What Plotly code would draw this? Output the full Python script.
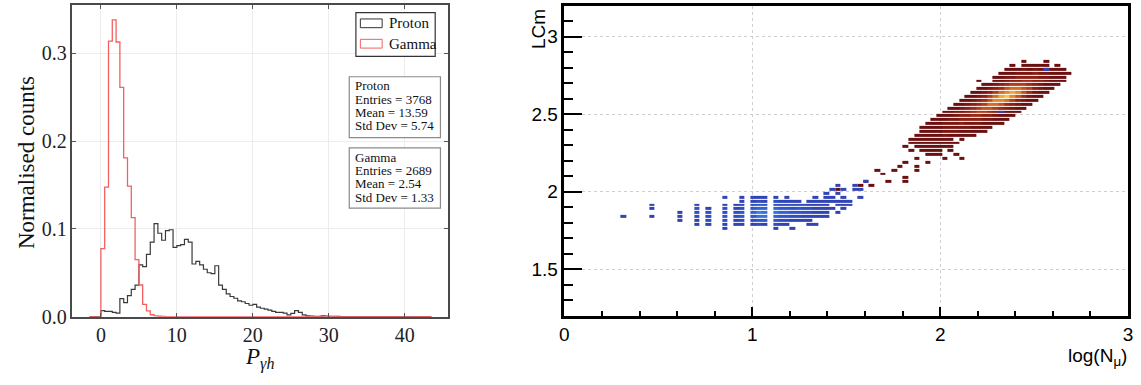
import plotly.graph_objects as go

W, H = 1141, 385

# ---------------- Left panel data: normalised histograms (bin width 0.5, first bin at 0) ----------------
hist_start = 0.0
hist_bin = 0.5
hist_lo, hist_hi = -1.5, 43.5

proton_norm = [0.007, 0.006, 0.006, 0.005, 0.004, 0.0205, 0.016, 0.024, 0.031, 0.036,
               0.059, 0.057, 0.071, 0.085, 0.106, 0.095, 0.087, 0.098, 0.099, 0.079,
               0.081, 0.082, 0.088, 0.085, 0.060, 0.063, 0.059, 0.054, 0.050, 0.049,
               0.058, 0.036, 0.031, 0.026, 0.023, 0.021, 0.018, 0.017, 0.015, 0.013,
               0.014, 0.011, 0.0096, 0.0085, 0.0074, 0.006, 0.005, 0.005, 0.004, 0.002,
               0.0037, 0.0068, 0.0048, 0.002, 0.001, 0.0008, 0.0005, 0.0005, 0.001, 0.0008,
               0.0005, 0.0005, 0.0003]
gamma_norm = [0.0774, 0.1475, 0.3138, 0.3378, 0.3127, 0.2610, 0.1807, 0.1486, 0.1128, 0.0649,
              0.0361, 0.0140, 0.0066, 0.0022, 0.0010, 0.0005, 0.0003]

legend_names = ["Proton", "Gamma"]
stats_proton = ["Proton", "Entries = 3768", "Mean = 13.59", "Std Dev = 5.74"]
stats_gamma = ["Gamma", "Entries = 2689", "Mean = 2.54", "Std Dev = 1.33"]

# ---------------- Right panel data: 2D histogram LCm vs log(N_mu) ----------------
hx0, hdx, hnx = 0.0, 0.03, 100     # log(N_mu) bins
hy0, hdy, hny = 1.2, 0.025, 80     # LCm bins

# proton: rows (LCm, first log(N_mu) bin centre, counts in consecutive bins)
proton_row_lcm = [2.8375, 2.8125, 2.7875, 2.7625, 2.7375, 2.7125, 2.6875, 2.6625, 2.6375, 2.6125,
                  2.5875, 2.5625, 2.5375, 2.5125, 2.4875, 2.4625, 2.4375, 2.4125, 2.3875, 2.3625,
                  2.3375, 2.3125, 2.2875, 2.2625, 2.2375, 2.2125]
proton_row_x0 = [2.445, 2.385, 2.355, 2.325, 2.295, 2.205, 2.235, 2.205, 2.175, 2.145,
                 2.115, 2.085, 2.055, 2.025, 1.995, 1.965, 1.935, 1.905, 1.905, 1.875,
                 1.845, 1.845, 1.815, 1.845, 1.935, 2.025]
proton_row_counts = [
    [1, 0, 0, 0, 1],
    [1, 0, 1, 1, 1, 1, 1, 0, 1],
    [1, 1, 1, 2, 1, 2, 1, 2, 1, 1, 1],
    [1, 1, 1, 2, 2, 2, 3, 2, 2, 1, 1, 1, 1],
    [1, 1, 2, 2, 3, 3, 3, 3, 2, 2, 1, 1, 1],
    [1, 0, 0, 1, 1, 2, 3, 3, 4, 4, 3, 3, 2, 1, 1, 1],
    [1, 1, 2, 3, 4, 5, 5, 5, 4, 3, 2, 1, 1, 1],
    [1, 1, 2, 3, 4, 6, 7, 7, 6, 5, 3, 2, 1, 1],
    [1, 1, 2, 3, 5, 7, 8, 9, 8, 6, 4, 2, 1, 1],
    [1, 1, 2, 3, 5, 7, 9, 10, 8, 6, 4, 2, 1, 1],
    [1, 1, 2, 3, 4, 6, 8, 8, 7, 5, 3, 2, 1, 1],
    [1, 1, 2, 3, 4, 5, 7, 7, 6, 4, 3, 2, 1, 1],
    [1, 1, 2, 3, 4, 5, 6, 6, 5, 4, 3, 2, 1, 1],
    [1, 1, 2, 2, 3, 4, 5, 5, 4, 3, 2, 1, 1, 1],
    [1, 1, 1, 2, 3, 3, 4, 4, 3, 3, 2, 1, 1, 1],
    [1, 1, 1, 2, 2, 3, 3, 3, 3, 2, 2, 1, 1, 1],
    [1, 1, 1, 2, 2, 2, 3, 2, 2, 2, 1, 1, 1, 1],
    [1, 1, 1, 1, 2, 2, 2, 2, 2, 1, 1, 1, 1],
    [1, 1, 1, 1, 2, 2, 2, 1, 1, 1, 1, 1],
    [1, 1, 1, 1, 1, 2, 1, 1, 1, 1, 1],
    [1, 1, 1, 1, 1, 1, 1, 1, 0, 1],
    [1, 1, 1, 1, 1, 1, 1, 1, 1],
    [1, 0, 1, 1, 1, 1, 1, 1, 1],
    [1, 0, 1, 1, 1, 1, 0, 1],
    [1, 1, 1, 0, 0, 1],
    [1, 0, 0, 1],
]
proton_tail_x = [1.455, 1.575, 1.605, 1.635, 1.665, 1.695, 1.725, 1.755, 1.785, 1.815,
                 1.815, 1.815, 1.875, 1.875, 1.935, 1.875]
proton_tail_y = [2.0125, 2.0375, 2.0625, 2.0375, 2.1375, 2.1125, 2.0625, 2.1375, 2.1625, 2.1875,
                 2.0875, 2.0625, 2.1375, 2.2125, 2.1875, 2.1625]

# gamma: columns (log(N_mu) bin centre, lowest LCm bin centre, counts going upward)
gamma_col_x = [0.315, 0.465, 0.615, 0.705, 0.765, 0.855, 0.915, 0.945, 1.005, 1.035,
               1.065, 1.125, 1.155, 1.185, 1.215, 1.245, 1.275, 1.305, 1.335, 1.365,
               1.395, 1.425, 1.455, 1.485, 1.515, 1.545, 1.575, 1.605, 2.315, 2.555]
gamma_col_y0 = [1.8375, 1.8375, 1.8125, 1.7875, 1.7875, 1.7625, 1.7875, 1.7875, 1.7875, 1.7875,
                1.7875, 1.7625, 1.7875, 1.7875, 1.7625, 1.8125, 1.8125, 1.7875, 1.7875, 1.8375,
                1.8375, 1.8875, 1.8625, 1.8875, 1.9125, 2.0125, 1.9625, 2.0625, 2.5125, 2.7875]
gamma_col_counts = [
    [1], [1, 0, 1, 1], [1, 1, 1], [1, 1, 2, 2, 2, 1], [1, 2, 2, 2, 1],
    [1, 1, 2, 3, 2, 2, 1, 0, 1], [1, 1, 2, 2, 1, 1], [1, 2, 3, 3, 2, 2, 1, 1],
    [1, 2, 3, 4, 3, 2, 1, 1], [2, 3, 5, 6, 4, 3, 2, 1],
    [1, 3, 5, 5, 4, 3, 1, 1], [1, 2, 3, 4, 5, 4, 3, 2, 1], [1, 2, 3, 4, 3, 2, 1],
    [1, 2, 3, 4, 3, 2, 1, 1], [1, 0, 1, 2, 3, 2, 2, 1], [1, 2, 3, 3, 2, 1],
    [1, 1, 2, 2, 2], [1, 1, 1, 2, 2, 1, 1], [1, 0, 1, 1, 1, 1, 1, 1], [1, 1, 1, 1, 1],
    [1, 1, 1, 1, 1, 1, 1], [1, 0, 1, 1, 0, 1], [1, 0, 1, 1, 0, 1, 0, 1], [1, 1, 1, 1, 0, 1],
    [1, 1], [1, 1], [1, 0, 1], [1], [1], [1],
]

# ---------------- helpers ----------------
def fx(p):
    return p / W


def fy(p):
    return 1 - p / H


def step_path(values):
    xs, ys = [hist_lo, hist_start], [0, 0]
    for i, v in enumerate(values):
        xs.append(hist_start + i * hist_bin)
        ys.append(v)
    end = hist_start + len(values) * hist_bin
    xs += [end, end, hist_hi]
    ys += [values[-1], 0, 0]
    return xs, ys


xc = [hx0 + (i + 0.5) * hdx for i in range(hnx)]
yc = [hy0 + (j + 0.5) * hdy for j in range(hny)]


def empty_grid():
    return [[None] * hnx for _ in range(hny)]


def put(Z, x, y, c):
    if c <= 0:
        return
    i = int(round((x - hx0) / hdx - 0.5))
    j = int(round((y - hy0) / hdy - 0.5))
    if 0 <= i < hnx and 0 <= j < hny:
        Z[j][i] = (Z[j][i] or 0) + c


Zp = empty_grid()
for y, x0, cs in zip(proton_row_lcm, proton_row_x0, proton_row_counts):
    for k, c in enumerate(cs):
        put(Zp, x0 + k * hdx, y, c)
for x, y in zip(proton_tail_x, proton_tail_y):
    put(Zp, x, y, 1)

Zg = empty_grid()
for x, y0, cs in zip(gamma_col_x, gamma_col_y0, gamma_col_counts):
    for k, c in enumerate(cs):
        put(Zg, x, y0 + k * hdy, c)

fig = go.Figure()

# left histograms
px_, py_ = step_path(proton_norm)
fig.add_trace(go.Scatter(x=px_, y=py_, mode="lines", line=dict(color="#3a3a3a", width=1.2, shape="hv"),
                         xaxis="x", yaxis="y", hoverinfo="skip", showlegend=False))
gx_, gy_ = step_path(gamma_norm)
fig.add_trace(go.Scatter(x=gx_, y=gy_, mode="lines", line=dict(color="#f26060", width=1.3, shape="hv"),
                         xaxis="x", yaxis="y", hoverinfo="skip", showlegend=False))

# right heatmaps
fig.add_trace(go.Heatmap(x=xc, y=yc, z=Zp, xaxis="x2", yaxis="y2", zmin=1, zmax=10,
                         colorscale=[[0, "#6a1010"], [0.15, "#7e1812"], [0.35, "#a02c16"],
                                     [0.55, "#c4501c"], [0.78, "#e08a2c"], [1, "#f4cc4a"]],
                         showscale=False, ygap=1, hoverinfo="skip"))
fig.add_trace(go.Heatmap(x=xc, y=yc, z=Zg, xaxis="x2", yaxis="y2", zmin=1, zmax=6,
                         colorscale=[[0, "#3044b4"], [0.5, "#2f5cd0"], [1, "#3a80ea"]],
                         showscale=False, ygap=1, hoverinfo="skip"))

serif = "Liberation Serif, Times New Roman, serif"
sans = "Liberation Sans, Arial, sans-serif"

left_axis_common = dict(showline=True, linecolor="#4a4a4a", linewidth=1.5, mirror="ticks",
                        ticks="inside", ticklen=4, tickwidth=1, tickcolor="#555",
                        showgrid=True, gridcolor="#ececec", gridwidth=1, zeroline=False,
                        tickfont=dict(family=serif, size=20, color="#222"))

fig.update_layout(
    width=W, height=H, margin=dict(l=0, r=0, t=0, b=0),
    paper_bgcolor="white", plot_bgcolor="white", showlegend=False,
    xaxis=dict(domain=[fx(68), fx(447)], range=[-3.75, 45.7], tickvals=[0, 10, 20, 30, 40],
               anchor="y", **left_axis_common),
    yaxis=dict(domain=[fy(326), fy(5)], range=[0, 0.355], tickvals=[0, 0.1, 0.2, 0.3],
               tickformat=".1f", anchor="x", **left_axis_common),
    xaxis2=dict(domain=[fx(564.3), fx(1133)], range=[0, 3], dtick=1, tick0=0, anchor="y2",
                showline=True, linecolor="black", linewidth=2.5, mirror=True,
                ticks="inside", ticklen=9, tickwidth=2, tickcolor="black",
                minor=dict(ticks="inside", dtick=0.2, tick0=0, ticklen=5, tickwidth=2,
                           tickcolor="black", showgrid=False),
                showgrid=True, gridcolor="#cfcfcf", griddash="dot", gridwidth=1, zeroline=False,
                tickfont=dict(family=sans, size=19, color="black")),
    yaxis2=dict(domain=[fy(325), fy(6)], range=[1.2, 3.2], dtick=0.5, tick0=0, anchor="x2",
                showline=True, linecolor="black", linewidth=2.5, mirror=True,
                ticks="inside", ticklen=18, tickwidth=2, tickcolor="black",
                minor=dict(ticks="inside", dtick=0.1, tick0=0, ticklen=9, tickwidth=2,
                           tickcolor="black", showgrid=False),
                showgrid=True, gridcolor="#cfcfcf", griddash="dot", gridwidth=1, zeroline=False,
                tickfont=dict(family=sans, size=19, color="black")),
)

shapes = []
ann = []

# legend box
shapes.append(dict(type="rect", xref="paper", yref="paper", x0=fx(354), x1=fx(434), y0=fy(58), y1=fy(13),
                   line=dict(color="#333", width=1.2), fillcolor="white", layer="above"))
leg_colors = ["#333333", "#f26060"]
leg_rows = [24, 45]
for name, col, ry in zip(legend_names, leg_colors, leg_rows):
    shapes.append(dict(type="rect", xref="paper", yref="paper", x0=fx(358.5), x1=fx(380.5),
                       y0=fy(ry + 4.5), y1=fy(ry - 4.5), line=dict(color=col, width=1),
                       fillcolor="white", layer="above"))
    ann.append(dict(x=fx(385.5), y=fy(ry), xref="paper", yref="paper", text=name, showarrow=False,
                    xanchor="left", yanchor="middle", font=dict(family=serif, size=15, color="#111")))

# stats boxes
for lines, top, bottom, first in [(stats_proton, 79, 141.7, 88.3), (stats_gamma, 152.3, 214.3, 161.7)]:
    shapes.append(dict(type="rect", xref="paper", yref="paper", x0=fx(347.3), x1=fx(439.3),
                       y0=fy(bottom), y1=fy(top), line=dict(color="#8a8a8a", width=1.2),
                       fillcolor="white", layer="above"))
    for k, t in enumerate(lines):
        ann.append(dict(x=fx(351.5), y=fy(first + k * 13.8), xref="paper", yref="paper", text=t,
                        showarrow=False, xanchor="left", yanchor="middle",
                        font=dict(family=serif, size=13, color="#111")))

# axis titles
ann.append(dict(x=fx(21), y=fy(167), xref="paper", yref="paper", text="Normalised counts",
                textangle=-90, showarrow=False, xanchor="center", yanchor="middle",
                font=dict(family=serif, size=23, color="#111")))
ann.append(dict(x=fx(257), y=fy(352), xref="paper", yref="paper",
                text="<i>P</i><sub><i>γh</i></sub>", showarrow=False, xanchor="center", yanchor="top",
                font=dict(family=serif, size=23, color="#111")))
ann.append(dict(x=fx(539), y=fy(7), xref="paper", yref="paper", text="LCm", textangle=-90,
                showarrow=False, xanchor="center", yanchor="top",
                font=dict(family=sans, size=19, color="black")))
ann.append(dict(x=fx(1134), y=fy(367), xref="paper", yref="paper", text="log(N<sub>μ</sub>)",
                showarrow=False, xanchor="right", yanchor="middle",
                font=dict(family=sans, size=19, color="black")))

fig.update_layout(shapes=shapes, annotations=ann)
fig.write_html("out.html", config={"displayModeBar": False},
               post_script="document.body.style.margin='0';document.body.style.overflow='hidden';")
